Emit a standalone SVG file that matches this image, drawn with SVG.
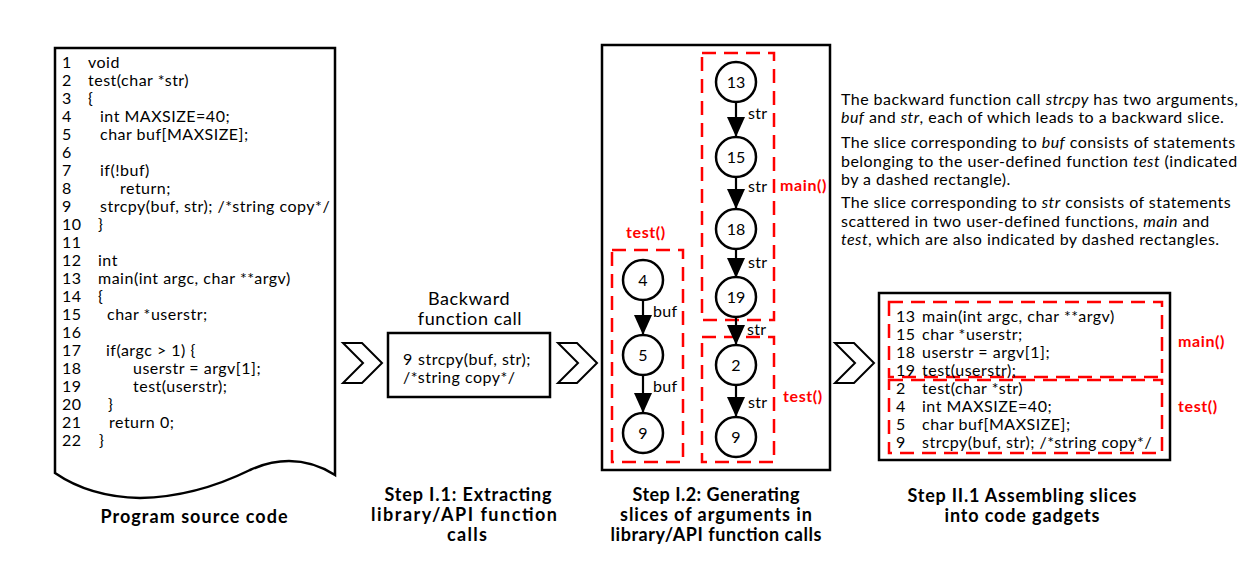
<svg xmlns="http://www.w3.org/2000/svg" width="1256" height="563" viewBox="0 0 1256 563">
<style>
text{font-family:Lato,"Liberation Sans",sans-serif;fill:#000}
.code{font-size:16px;letter-spacing:0.5px}
.lbl{font-size:16px;letter-spacing:0.3px}
.big{font-size:18px;letter-spacing:0.6px;text-anchor:middle}
.title{font-size:18px;font-weight:bold;text-anchor:middle}
.red{font-size:16px;font-weight:bold;fill:#ff0000;letter-spacing:0.6px}
.box{fill:#fff;stroke:#000;stroke-width:2.5}
.dash{fill:none;stroke:#ff0000;stroke-width:2.5;stroke-dasharray:14 8}
.node{fill:#fff;stroke:#000;stroke-width:2.5}
.num{font-size:16px;text-anchor:middle}
.chev{fill:#fff;stroke:#000;stroke-width:2;stroke-linejoin:miter}
.edge{stroke:#000;stroke-width:2.2;fill:none}
.para{font-size:16px;letter-spacing:0.45px}
</style>
<defs>
<marker id="ah" markerUnits="userSpaceOnUse" markerWidth="20" markerHeight="18" refX="20" refY="9" orient="auto">
<path d="M0,0 L20,9 L0,18 z" fill="#000"/>
</marker>
<polygon id="chevron" points="0,0 19,0 39,20 19,40 0,40 20,20"/>
</defs>

<g id="source">
<path class="box" d="M55,48 H335 V475 Q295,450 250,470 Q195,497 140,498 Q90,497 55,473 Z"/>
<g class="code">
<text x="62" y="68">1</text><text x="88" y="68">void</text>
<text x="62" y="86">2</text><text x="88" y="86">test(char *str)</text>
<text x="62" y="104">3</text><text x="88" y="104">{</text>
<text x="62" y="122">4</text><text x="100" y="122">int MAXSIZE=40;</text>
<text x="62" y="140">5</text><text x="100" y="140">char buf[MAXSIZE];</text>
<text x="62" y="158">6</text>
<text x="62" y="176">7</text><text x="100" y="176">if(!buf)</text>
<text x="62" y="194">8</text><text x="120" y="194">return;</text>
<text x="62" y="212">9</text><text x="100" y="212">strcpy(buf, str); /*string copy*/</text>
<text x="62" y="230">10</text><text x="98" y="230">}</text>
<text x="62" y="248">11</text>
<text x="62" y="266">12</text><text x="98" y="266">int</text>
<text x="62" y="284">13</text><text x="98" y="284">main(int argc, char **argv)</text>
<text x="62" y="302">14</text><text x="98" y="302">{</text>
<text x="62" y="320">15</text><text x="107" y="320">char *userstr;</text>
<text x="62" y="338">16</text>
<text x="62" y="356">17</text><text x="106" y="356">if(argc &gt; 1) {</text>
<text x="62" y="374">18</text><text x="133" y="374">userstr = argv[1];</text>
<text x="62" y="392">19</text><text x="133" y="392">test(userstr);</text>
<text x="62" y="410">20</text><text x="108" y="410">}</text>
<text x="62" y="428">21</text><text x="109" y="428">return 0;</text>
<text x="62" y="446">22</text><text x="99" y="446">}</text>
</g>
<text class="title" x="194" y="523" textLength="187" lengthAdjust="spacing">Program source code</text>
</g>

<g id="chevrons">
<use href="#chevron" class="chev" x="343" y="343"/>
<use href="#chevron" class="chev" x="558" y="343"/>
<use href="#chevron" class="chev" x="835" y="343"/>
</g>

<g id="step1">
<text class="big" x="469" y="305">Backward</text>
<text class="big" x="470" y="325">function call</text>
<rect class="box" x="388" y="333" width="162" height="64"/>
<text class="code" x="403" y="365">9</text><text class="code" x="418" y="365">strcpy(buf, str);</text>
<text class="code" x="403" y="383">/*string copy*/</text>
<text class="title" x="468" y="501" textLength="167" lengthAdjust="spacing">Step I.1: Extracting</text>
<text class="title" x="464" y="521" textLength="186" lengthAdjust="spacing">library/API function</text>
<text class="title" x="467" y="541" textLength="40" lengthAdjust="spacing">calls</text>
</g>

<g id="step2">
<rect class="box" x="602" y="45" width="228" height="425"/>
<rect class="dash" x="702" y="53" width="72" height="267"/>
<rect class="dash" x="702" y="337" width="72" height="125"/>
<rect class="dash" x="612" y="250" width="71" height="212"/>
<text class="red" x="780" y="191">main()</text>
<text class="red" x="626" y="238">test()</text>
<text class="red" x="783" y="402">test()</text>
<text class="title" x="716" y="501" textLength="167" lengthAdjust="spacing">Step I.2: Generating</text>
<text class="title" x="716" y="521" textLength="192" lengthAdjust="spacing">slices of  arguments in</text>
<text class="title" x="716" y="541" textLength="211" lengthAdjust="spacing">library/API function calls</text>
</g>

<g id="connectors">
<line class="edge" x1="736" y1="102" x2="736" y2="137" marker-end="url(#ah)"/>
<line class="edge" x1="736" y1="177" x2="736" y2="209" marker-end="url(#ah)"/>
<line class="edge" x1="736" y1="249" x2="736" y2="278" marker-end="url(#ah)"/>
<line class="edge" x1="736" y1="317" x2="736" y2="345" marker-end="url(#ah)"/>
<line class="edge" x1="736" y1="385" x2="736" y2="417" marker-end="url(#ah)"/>
<line class="edge" x1="643" y1="300" x2="643" y2="335" marker-end="url(#ah)"/>
<line class="edge" x1="643" y1="375" x2="643" y2="413" marker-end="url(#ah)"/>
<text class="lbl" x="748" y="119">str</text>
<text class="lbl" x="748" y="192">str</text>
<text class="lbl" x="748" y="268">str</text>
<text class="lbl" x="747" y="335">str</text>
<text class="lbl" x="748" y="408">str</text>
<text class="lbl" x="653" y="317">buf</text>
<text class="lbl" x="653" y="392">buf</text>
</g>

<g id="n13"><circle class="node" cx="736" cy="82" r="20"/><text class="num" x="736" y="88">13</text></g>
<g id="n15"><circle class="node" cx="736" cy="157" r="20"/><text class="num" x="736" y="163">15</text></g>
<g id="n18"><circle class="node" cx="736" cy="229" r="20"/><text class="num" x="736" y="235">18</text></g>
<g id="n19"><circle class="node" cx="736" cy="297" r="20"/><text class="num" x="736" y="303">19</text></g>
<g id="n2"><circle class="node" cx="736" cy="365" r="20"/><text class="num" x="736" y="371">2</text></g>
<g id="n9b"><circle class="node" cx="736" cy="437" r="20"/><text class="num" x="736" y="443">9</text></g>
<g id="n4"><circle class="node" cx="643" cy="280" r="20"/><text class="num" x="643" y="286">4</text></g>
<g id="n5"><circle class="node" cx="643" cy="355" r="20"/><text class="num" x="643" y="361">5</text></g>
<g id="n9a"><circle class="node" cx="643" cy="433" r="20"/><text class="num" x="643" y="439">9</text></g>

<g id="description" class="para">
<text x="841" y="105">The backward function call <tspan font-style="italic">strcpy</tspan> has two arguments,</text>
<text x="841" y="123"><tspan font-style="italic">buf</tspan> and <tspan font-style="italic">str</tspan>, each of which leads to a backward slice.</text>
<text x="841" y="148">The slice corresponding to <tspan font-style="italic">buf</tspan> consists of statements</text>
<text x="841" y="167">belonging to the user-defined function <tspan font-style="italic">test</tspan> (indicated</text>
<text x="841" y="185">by a dashed rectangle).</text>
<text x="841" y="208">The slice corresponding to <tspan font-style="italic">str</tspan> consists of statements</text>
<text x="841" y="227">scattered in two user-defined functions, <tspan font-style="italic">main</tspan> and</text>
<text x="841" y="245"><tspan font-style="italic">test</tspan>, which are also indicated by dashed rectangles.</text>
</g>

<g id="gadget">
<rect class="box" x="879" y="293" width="291" height="167"/>
<rect class="dash" x="889" y="302" width="273" height="75"/>
<rect class="dash" x="889" y="380" width="273" height="73"/>
<g class="code">
<text x="896" y="322">13</text><text x="922" y="322">main(int argc, char **argv)</text>
<text x="896" y="340">15</text><text x="922" y="340">char *userstr;</text>
<text x="896" y="358">18</text><text x="922" y="358">userstr = argv[1];</text>
<text x="896" y="376">19</text><text x="922" y="376">test(userstr);</text>
<text x="896" y="394">2</text><text x="922" y="394">test(char *str)</text>
<text x="896" y="412">4</text><text x="922" y="412">int MAXSIZE=40;</text>
<text x="896" y="430">5</text><text x="922" y="430">char buf[MAXSIZE];</text>
<text x="896" y="448">9</text><text x="922" y="448">strcpy(buf, str); /*string copy*/</text>
</g>
<text class="red" x="1178" y="347">main()</text>
<text class="red" x="1178" y="412">test()</text>
<text class="title" x="1022" y="502" textLength="229" lengthAdjust="spacing">Step II.1 Assembling slices</text>
<text class="title" x="1022" y="522" textLength="155" lengthAdjust="spacing">into code gadgets</text>
</g>
</svg>
